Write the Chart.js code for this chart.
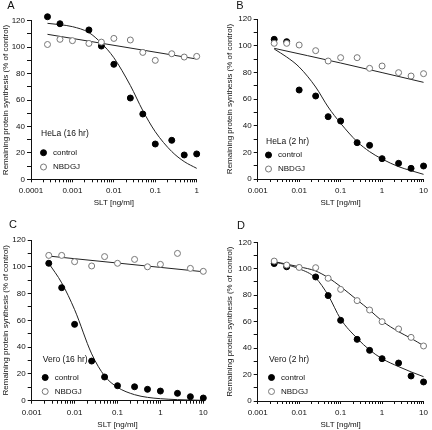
<!DOCTYPE html>
<html>
<head>
<meta charset="utf-8">
<script src="https://cdn.jsdelivr.net/npm/chart.js@4.4.0/dist/chart.umd.min.js"></script>
<style>
html, body { margin: 0; padding: 0; background: #fff; }
#wrap { position: relative; width: 432px; height: 430px; }
.panel { position: absolute; width: 216px; height: 215px; }
</style>
</head>
<body>
<div id="wrap">
  <div class="panel" style="left:0;top:0"><canvas id="chartA" width="216" height="215"></canvas></div>
  <div class="panel" style="left:216px;top:0"><canvas id="chartB" width="216" height="215"></canvas></div>
  <div class="panel" style="left:0;top:215px"><canvas id="chartC" width="216" height="215"></canvas></div>
  <div class="panel" style="left:216px;top:215px"><canvas id="chartD" width="216" height="215"></canvas></div>
</div>
<script>
// tick labels
const xTicksA = ['0.0001', '0.001', '0.01', '0.1', '1'];
const xTicksBCD = ['0.001', '0.01', '0.1', '1', '10'];

// A: HeLa (16 hr)
const doseA = [0.00025, 0.0005, 0.001, 0.0025, 0.005, 0.01, 0.025, 0.05, 0.1, 0.25, 0.5, 1];
const controlA = [123, 117.7, null, 113, 100.8, 87, 61.5, 49.4, 26.7, 29.5, 18.4, 19.2];
const nbdgjA = [102, 105.9, 104.9, 102.8, 103.8, 106.6, 105.4, 96, 90, 95, 92.5, 93];
const fitControlA = [118, 117, 115.5, 111, 103, 92, 71, 52, 36, 21, 13.4, 8.3];
const fitDoseNbA = [0.00025, 1];
const fitNbdgjA = [109.7, 91];

// B: HeLa (2 hr)
const doseB = [0.0025, 0.005, 0.01, 0.025, 0.05, 0.1, 0.25, 0.5, 1, 2.5, 5, 10];
const controlB = [104.75, 103, 66.75, 62.25, 46.75, 43.5, 27.25, 25.25, 15.25, 11.75, 8, 9.75];
const nbdgjB = [101.75, 101.75, 100.5, 96.25, 88.5, 91, 91, 83, 84.75, 79.75, 77.25, 79];
const fitControlB = [97.5, 91.5, 84, 69, 54, 41.75, 28, 20.5, 15, 9.25, 6.25, 3.5];
const fitDoseNbB = [0.0025, 0.1, 10];
const fitNbdgjB = [98, 87, 72.5];

// C: Vero (16 hr)
const doseC = [0.0025, 0.005, 0.01, 0.025, 0.05, 0.1, 0.25, 0.5, 1, 2.5, 5, 10];
const controlC = [102.6, 84.4, 57, 29.6, 17.7, 11.2, 10.4, 8.5, 7.2, 5.5, 3, 2];
const nbdgjC = [108.5, 108.5, 103.8, 100.6, 107.6, 102.6, 105.5, 100, 101.8, 110, 98.8, 96.6];
const fitControlC = [102.6, 88, 68, 35, 18.5, 10, 4.5, 2.5, 1.5, 0.8, 0.5, 0.3];
const fitDoseNbC = [0.0025, 10];
const fitNbdgjC = [108, 96.3];

// D: Vero (2 hr)
const doseD = [0.0025, 0.005, 0.01, 0.025, 0.05, 0.1, 0.25, 0.5, 1, 2.5, 5, 10];
const controlD = [103.9, 101.5, null, 93.8, 79.7, 61, 46.6, 38.3, 32, 28.7, 18.9, 14.4];
const nbdgjD = [105.8, 102.8, 101, 100.8, 92.8, 84.4, 75.9, 68.8, 60, 54.5, 48.1, 41.6];
const fitControlD = [105, 103, 100, 93, 80, 62, 47.4, 38.6, 32, 26, 22, 18.4];
const fitNbdgjD = [105.4, 103.5, 101.5, 98.3, 93.3, 86.5, 76.4, 68.8, 60.5, 52.4, 47.4, 41.8];

const FONT = '"Liberation Sans", Arial, sans-serif';
const INK = '#111111';
const Y_TITLE = 'Remaining protein synthesis (% of control)';

function pts(xs, ys) {
    return xs.map((x, i) => ({ x: x, y: ys[i] })).filter(p => p.y !== null);
}

function logTicks(labels, max) {
    const out = [];
    labels.forEach(l => {
        const v = Number(l);
        for (let k = 1; k <= 9; k++) {
            const t = v * k;
            if (t <= max * 1.0001) out.push({ value: t });
        }
    });
    return out;
}

const panelText = {
    id: 'panelText',
    afterDraw(chart, args, o) {
        const ctx = chart.ctx;
        ctx.save();
        ctx.fillStyle = INK;
        ctx.textBaseline = 'middle';
        ctx.textAlign = 'center';
        ctx.font = '11px ' + FONT;
        ctx.fillText(o.letter, o.letterX, o.letterY);
        ctx.textAlign = 'left';
        ctx.font = '8.5px ' + FONT;
        ctx.fillText(o.cell, o.legX, o.cellY);
        ctx.font = '8px ' + FONT;
        const ds = chart.data.datasets;
        [[1, o.ctrlY], [0, o.nbY]].forEach(([i, y]) => {
            const d = ds[i];
            ctx.beginPath();
            ctx.arc(o.legX + 2.5, y, d.pointRadius, 0, Math.PI * 2);
            ctx.fillStyle = d.backgroundColor;
            ctx.fill();
            ctx.lineWidth = d.borderWidth;
            ctx.strokeStyle = d.borderColor;
            ctx.stroke();
            ctx.fillStyle = INK;
            ctx.fillText(d.label, o.legX + 12, y);
        });
        ctx.restore();
    }
};

function makePanel(id, p) {
    const ctx = document.getElementById(id).getContext('2d');
    return new Chart(ctx, {
        type: 'scatter',
        data: {
            datasets: [
                {
                    label: 'NBDGJ',
                    data: pts(p.dose, p.nbdgj),
                    pointRadius: 3,
                    pointHoverRadius: 3,
                    backgroundColor: '#ffffff',
                    borderColor: '#777777',
                    borderWidth: 1,
                    clip: false
                },
                {
                    label: 'control',
                    data: pts(p.dose, p.control),
                    pointRadius: 3,
                    pointHoverRadius: 3,
                    backgroundColor: '#000000',
                    borderColor: '#000000',
                    borderWidth: 1,
                    clip: false
                },
                {
                    label: 'fit control',
                    data: pts(p.fitDoseCtrl, p.fitControl),
                    showLine: true,
                    pointRadius: 0,
                    borderColor: '#222222',
                    borderWidth: 1,
                    cubicInterpolationMode: 'monotone',
                    clip: false
                },
                {
                    label: 'fit NBDGJ',
                    data: pts(p.fitDoseNb, p.fitNbdgj),
                    showLine: true,
                    pointRadius: 0,
                    borderColor: '#222222',
                    borderWidth: 1,
                    cubicInterpolationMode: 'monotone',
                    clip: false
                }
            ]
        },
        options: {
            responsive: false,
            animation: false,
            devicePixelRatio: 1,
            layout: { padding: p.pad },
            plugins: {
                legend: { display: false },
                tooltip: { enabled: false },
                panelText: p.text
            },
            scales: {
                x: {
                    type: 'logarithmic',
                    min: p.xmin,
                    max: p.xmax,
                    afterBuildTicks: s => { s.ticks = logTicks(p.xTicks, p.xmax); },
                    afterFit: s => { s.height = p.xH; },
                    ticks: {
                        autoSkip: false,
                        maxRotation: 0,
                        minRotation: 0,
                        padding: 4,
                        color: INK,
                        font: { family: FONT, size: 8 },
                        callback: v => {
                            const l = p.xTicks.find(t => Math.abs(Number(t) - v) < v * 1e-6);
                            return l || '';
                        }
                    },
                    grid: { drawOnChartArea: false, drawTicks: true, tickLength: 3, color: INK },
                    border: { display: true, color: INK, width: 1 },
                    title: {
                        display: true,
                        text: 'SLT [ng/ml]',
                        color: INK,
                        padding: 0,
                        font: { family: FONT, size: 8 }
                    }
                },
                y: {
                    min: 0,
                    max: 120,
                    afterFit: s => { s.width = p.yW; },
                    ticks: {
                        stepSize: 10,
                        autoSkip: false,
                        padding: 2,
                        color: INK,
                        font: { family: FONT, size: 8 },
                        callback: v => (v % 20 === 0 ? v : '')
                    },
                    grid: { drawOnChartArea: false, drawTicks: true, tickLength: 4, color: INK },
                    border: { display: true, color: INK, width: 1 },
                    title: {
                        display: true,
                        text: Y_TITLE,
                        color: INK,
                        padding: 0,
                        font: { family: FONT, size: 8 }
                    }
                }
            }
        },
        plugins: [panelText]
    });
}

makePanel('chartA', {
    dose: doseA, control: controlA, nbdgj: nbdgjA,
    fitDoseCtrl: doseA, fitControl: fitControlA,
    fitDoseNb: fitDoseNbA, fitNbdgj: fitNbdgjA,
    xmin: 0.0001, xmax: 1, xTicks: xTicksA,
    pad: { left: 1, right: 19.3, top: 20.7, bottom: 7 },
    yW: 30, xH: 28.7,
    text: { letter: 'A', letterX: 11, letterY: 6, cell: 'HeLa (16 hr)', legX: 41, cellY: 134, ctrlY: 152.7, nbY: 167 }
});

makePanel('chartB', {
    dose: doseB, control: controlB, nbdgj: nbdgjB,
    fitDoseCtrl: doseB, fitControl: fitControlB,
    fitDoseNb: fitDoseNbB, fitNbdgj: fitNbdgjB,
    xmin: 0.001, xmax: 10, xTicks: xTicksBCD,
    pad: { left: 8.5, right: 6, top: 19, bottom: 7 },
    yW: 33.2, xH: 29,
    text: { letter: 'B', letterX: 24, letterY: 6, cell: 'HeLa (2 hr)', legX: 50, cellY: 142, ctrlY: 155, nbY: 169 }
});

makePanel('chartC', {
    dose: doseC, control: controlC, nbdgj: nbdgjC,
    fitDoseCtrl: doseC, fitControl: fitControlC,
    fitDoseNb: fitDoseNbC, fitNbdgj: fitNbdgjC,
    xmin: 0.001, xmax: 10, xTicks: xTicksBCD,
    pad: { left: 1.2, right: 12.7, top: 25, bottom: 0 },
    yW: 30.5, xH: 29.3,
    text: { letter: 'C', letterX: 13, letterY: 10, cell: 'Vero (16 hr)', legX: 42.7, cellY: 145, ctrlY: 162.5, nbY: 176.5 }
});

makePanel('chartD', {
    dose: doseD, control: controlD, nbdgj: nbdgjD,
    fitDoseCtrl: doseD, fitControl: fitControlD,
    fitDoseNb: doseD, fitNbdgj: fitNbdgjD,
    xmin: 0.001, xmax: 10, xTicks: xTicksBCD,
    pad: { left: 8.5, right: 4, top: 27.3, bottom: 0 },
    yW: 33.2, xH: 29,
    text: { letter: 'D', letterX: 25, letterY: 11, cell: 'Vero (2 hr)', legX: 53, cellY: 145, ctrlY: 162.5, nbY: 176.5 }
});
</script>
</body>
</html>
